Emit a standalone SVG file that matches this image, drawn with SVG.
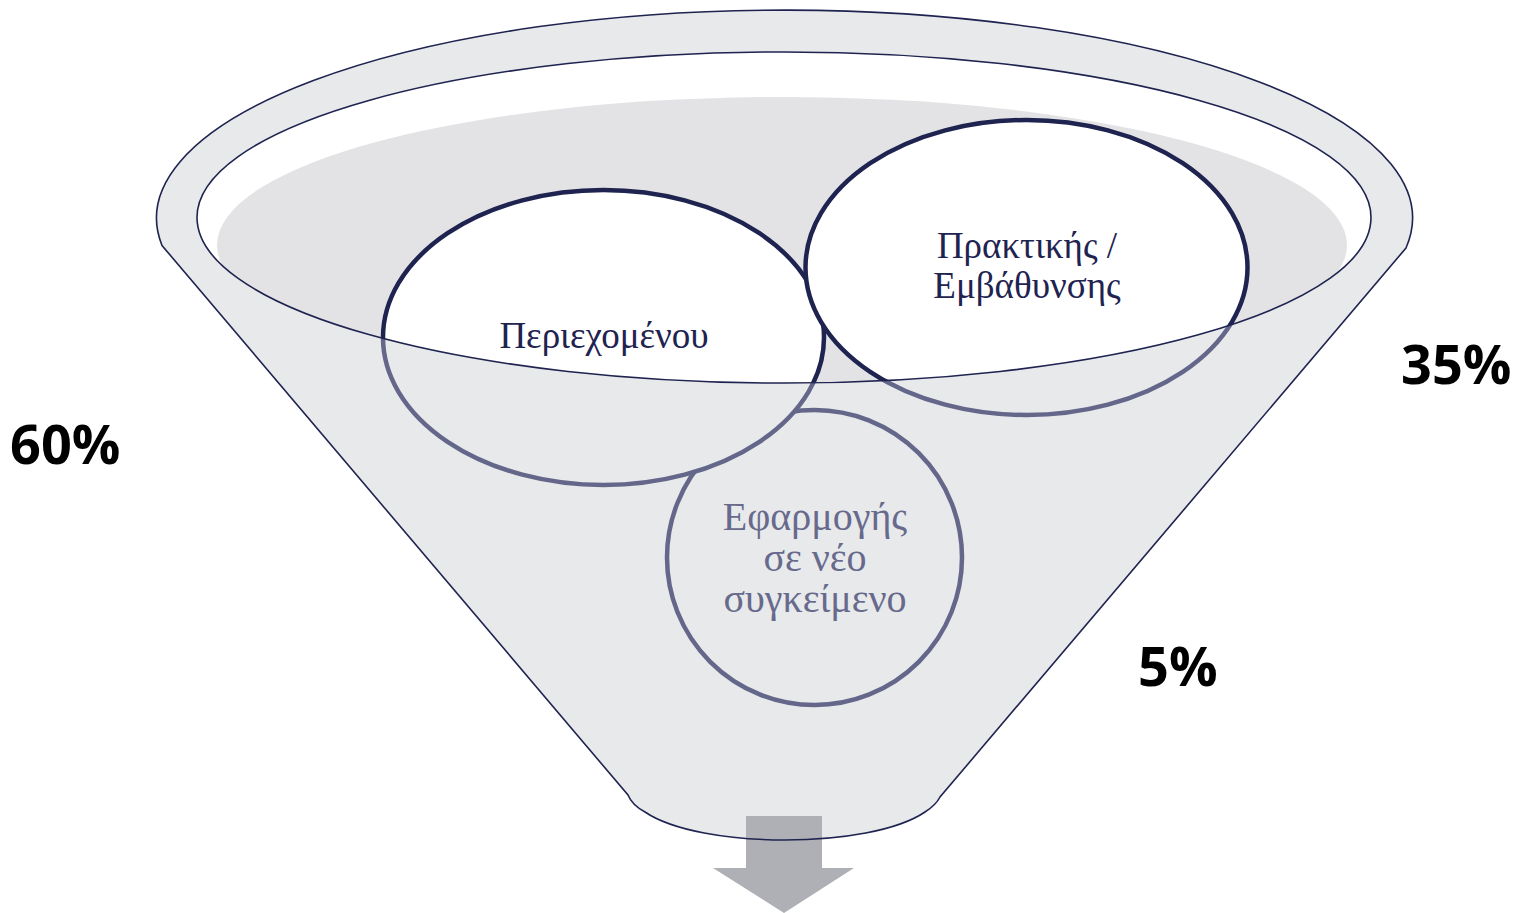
<svg xmlns="http://www.w3.org/2000/svg" width="1518" height="913" viewBox="0 0 1518 913">
  <style>
    .body { fill: #E8E9EB; }
    .outline { fill: none; stroke: #1F2350; stroke-width: 1.6; }
    .ring-top { fill: #FFFFFF; stroke: #1F2350; stroke-width: 4.5; }
    .ring-low { fill: #E8E9EB; stroke: #64678A; stroke-width: 4.5; }
    .lbl-dark { font-family: "Liberation Serif", "DejaVu Serif", serif; font-size: 37px; fill: #1F2350; text-anchor: middle; }
    .lbl-light { font-family: "Liberation Serif", "DejaVu Serif", serif; font-size: 40px; fill: #676A8C; text-anchor: middle; }
    .pct { font-family: "Open Sans", "Liberation Sans", sans-serif; font-weight: 700; font-size: 54px; fill: #000000; }
  </style>
  <defs>
    <!-- funnel silhouette: rim arc plus the two sides and the rounded spout -->
    <path id="funnelShape" d="M162,245.5 A628,208 0 1 1 1406,248 L940,797 Q936,805 925,812 C870,849.3 700,849.3 645,812 Q632,805 628,795 Z"/>
    <!-- inner opening of the funnel -->
    <path id="mouthShape" d="M197,217.5 a587,165.5 0 1 0 1174,0 a587,165.5 0 1 0 -1174,0 Z"/>
    <clipPath id="mouthClip">
      <use href="#mouthShape"/>
    </clipPath>
    <!-- funnel wall in front of the opening -->
    <clipPath id="frontClip">
      <path clip-rule="evenodd" d="M162,245.5 A628,208 0 1 1 1406,248 L940,797 Q936,805 925,812 C870,849.3 700,849.3 645,812 Q632,805 628,795 Z M197,217.5 a587,165.5 0 1 0 1174,0 a587,165.5 0 1 0 -1174,0 Z"/>
    </clipPath>
  </defs>

  <!-- funnel body and opening -->
  <g id="funnel">
    <use href="#funnelShape" class="body"/>
    <use href="#mouthShape" fill="#FFFFFF"/>
    <ellipse cx="782" cy="245" rx="565" ry="148" fill="#E3E3E5" clip-path="url(#mouthClip)"/>
  </g>

  <!-- parts of the rings seen inside the opening -->
  <g id="rings-inside" clip-path="url(#mouthClip)">
    <ellipse class="ring-top" cx="603.5" cy="337.5" rx="220.5" ry="147.5"/>
    <ellipse class="ring-top" cx="1026.5" cy="267.5" rx="221" ry="147.5"/>
  </g>

  <!-- front wall of the funnel -->
  <g id="funnel-front">
    <rect x="0" y="0" width="1518" height="913" class="body" clip-path="url(#frontClip)"/>
  </g>

  <g id="node-context">
    <circle class="ring-low" cx="814.5" cy="557.5" r="147.5"/>
    <text class="lbl-light" x="815" y="530">Εφαρμογής</text>
    <text class="lbl-light" x="815" y="571">σε νέο</text>
    <text class="lbl-light" x="815" y="612">συγκείμενο</text>
  </g>

  <g id="node-content">
    <ellipse class="ring-low" cx="603.5" cy="337.5" rx="220.5" ry="147.5" clip-path="url(#frontClip)"/>
    <text class="lbl-dark" x="604" y="348">Περιεχομένου</text>
  </g>

  <g id="node-practice">
    <ellipse class="ring-low" cx="1026.5" cy="267.5" rx="221" ry="147.5" clip-path="url(#frontClip)"/>
    <text class="lbl-dark" x="1027" y="258">Πρακτικής /</text>
    <text class="lbl-dark" x="1027" y="298">Εμβάθυνσης</text>
  </g>

  <!-- outflow arrow -->
  <g id="connectors">
    <path d="M746,816 H822 V868 H854 L784,913 L713,868 H746 Z" fill="#AFB0B5"/>
  </g>

  <!-- outlines drawn last -->
  <g id="funnel-outline">
    <use href="#funnelShape" class="outline"/>
    <use href="#mouthShape" class="outline"/>
  </g>

  <g id="percentages">
    <text class="pct" x="10" y="464">60%</text>
    <text class="pct" x="1401" y="384">35%</text>
    <text class="pct" x="1138" y="686">5%</text>
  </g>
</svg>
